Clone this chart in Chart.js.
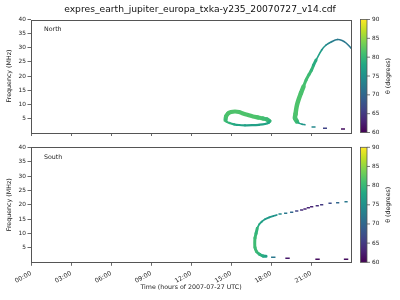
<!DOCTYPE html>
<html><head><meta charset="utf-8">
<script src="https://cdn.jsdelivr.net/npm/chart.js@4"></script>
<style>
html,body{margin:0;padding:0;background:#fff;}
#wrap{position:relative;width:400px;height:300px;overflow:hidden;}
canvas{position:absolute;left:0;}
</style></head><body>
<div id="wrap">
<canvas id="north" width="400" height="140" style="top:0;width:400px;height:140px"></canvas>
<canvas id="south" width="400" height="160" style="top:140px;width:400px;height:160px"></canvas>
</div>
<script>
// ---------------- data ----------------
const chartTitle = 'expres_earth_jupiter_europa_txka-y235_20070727_v14.cdf';
const panelLabels = ['North', 'South'];
const xTickHours = [0, 3, 6, 9, 12, 15, 18, 21];
const xTickLabels = ['00:00', '03:00', '06:00', '09:00', '12:00', '15:00', '18:00', '21:00'];
const yTicks = [5, 10, 15, 20, 25, 30, 35, 40];
const thetaTicks = [60, 65, 70, 75, 80, 85, 90];
const xTitle = 'Time (hours of 2007-07-27 UTC)';
const yTitle = 'Frequency (MHz)';
const cbTitle = 'θ (degrees)';

// North: loop (upper band)
const nLoopTopHour  = [14.59, 14.63, 14.78, 15.00, 15.30, 15.60, 15.90, 16.28, 16.65, 17.03, 17.40, 17.70, 17.89];
const nLoopTopFreq  = [4.42, 5.66, 6.73, 7.26, 7.43, 7.26, 6.73, 6.19, 5.66, 5.31, 4.96, 4.60, 4.07];
const nLoopTopTheta = [80.5, 81, 81.5, 81.5, 81.5, 81.5, 81.5, 81.5, 81.5, 81.5, 81, 80.5, 80];
// North: loop (lower band)
const nLoopBotHour  = [17.89, 17.85, 17.55, 17.10, 16.58, 16.05, 15.60, 15.23, 14.89, 14.66, 14.59];
const nLoopBotFreq  = [4.07, 3.54, 3.01, 2.73, 2.58, 2.55, 2.65, 2.90, 3.36, 3.89, 4.42];
const nLoopBotTheta = [79, 78, 77.5, 77, 77, 77, 77.5, 78, 79, 80, 80.5];
// North: arc, lower part
const nArcLowHour  = [19.95, 19.80, 19.84, 19.88, 19.95, 20.06, 20.25, 20.44];
const nArcLowFreq  = [3.89, 5.13, 6.55, 7.96, 9.73, 11.50, 13.98, 16.28];
const nArcLowTheta = [80, 81, 81.5, 81.5, 81.5, 81.5, 81.5, 81];
// North: arc, middle part
const nArcMidHour  = [20.44, 20.63, 20.85, 21.04, 21.20, 21.38];
const nArcMidFreq  = [16.28, 18.58, 20.53, 22.12, 23.90, 25.66];
const nArcMidTheta = [81, 81, 80.5, 80, 79, 78];
// North: arc, upper part
const nArcTopHour  = [21.38, 21.80, 22.13, 22.54, 22.99, 23.33, 23.63, 23.93, 24.05];
const nArcTopFreq  = [25.66, 29.20, 30.97, 32.14, 32.92, 32.57, 31.68, 30.27, 29.60];
const nArcTopTheta = [78, 76, 74.5, 73, 72, 72, 72, 72, 72];
// North: tail at the foot of the arc
const nTailHour  = [19.95, 20.10, 20.33, 20.55];
const nTailFreq  = [3.89, 3.29, 2.94, 2.73];
const nTailTheta = [80, 78, 76, 75];
// North: isolated dashes
const nDashHour  = [21.19, 22.05, 23.40];
const nDashFreq  = [1.95, 1.49, 1.24];
const nDashTheta = [74, 66, 61];

// South: main curve, lower part
const sLowHour  = [17.63, 17.40, 17.14, 16.91, 16.80, 16.78, 16.80, 16.88, 16.97];
const sLowFreq  = [2.09, 2.19, 2.78, 3.76, 5.15, 6.71, 8.45, 10.09, 11.83];
const sLowTheta = [76, 78, 79, 80, 80.5, 80.5, 80.5, 80, 79];
// South: main curve, upper part
const sUpHour  = [16.97, 17.12, 17.30, 17.55, 17.87, 18.17, 18.43];
const sUpFreq  = [11.83, 13.22, 14.12, 14.96, 15.65, 16.10, 16.45];
const sUpTheta = [79, 78, 77, 76.5, 76, 75.5, 75];
// South: upper dashes
const sDashUpHour  = [18.68, 19.10, 19.55, 19.93, 20.30, 20.55, 20.80, 21.05, 21.47, 21.80, 22.43, 23.00, 23.63];
const sDashUpFreq  = [16.80, 17.04, 17.39, 17.84, 18.19, 18.54, 18.99, 19.34, 19.69, 20.03, 20.52, 20.73, 21.08];
const sDashUpTheta = [74, 72, 70, 66, 64, 63, 63, 63, 64, 65, 67, 70, 72];
// South: lower dashes
const sDashLowHour  = [18.17, 19.24, 21.49, 23.63];
const sDashLowFreq  = [1.74, 1.39, 1.04, 1.04];
const sDashLowTheta = [72, 62, 61, 61];

// ---------------- style ----------------
const FAMILY = 'DejaVu Sans';
Chart.defaults.font.family = FAMILY;
Chart.defaults.color = '#222';
const VIRIDIS = ['#440154','#482475','#414487','#355f8d','#2a788e','#21918c','#22a884','#44bf70','#7ad151','#bddf26','#fde725'];
const THETA_MIN = 60, THETA_MAX = 90;
function hexRgb(h){return [parseInt(h.slice(1,3),16),parseInt(h.slice(3,5),16),parseInt(h.slice(5,7),16)];}
const VIR_RGB = VIRIDIS.map(hexRgb);
function viridis(theta){
  let t = (theta - THETA_MIN) / (THETA_MAX - THETA_MIN);
  t = Math.max(0, Math.min(1, t)) * (VIR_RGB.length - 1);
  const i = Math.min(VIR_RGB.length - 2, Math.floor(t)), u = t - i;
  const a = VIR_RGB[i], b = VIR_RGB[i+1];
  return 'rgb(' + a.map((v,k)=>Math.round(v + (b[k]-v)*u)).join(',') + ')';
}

function curveDataset(h, f, t, width){
  return {
    type: 'scatter', showLine: true, clip: 0,
    data: h.map((x,i)=>({x: x, y: f[i]})),
    pointRadius: 0, pointHoverRadius: 0,
    borderWidth: width, borderCapStyle: 'round', borderJoinStyle: 'round',
    tension: 0.35,
    borderColor: viridis(t[0]),
    segment: { borderColor: ctx => viridis((t[ctx.p0DataIndex] + t[ctx.p1DataIndex]) / 2) }
  };
}
function dashDataset(h, f, t, radius){
  return {
    type: 'scatter', showLine: false, clip: 0,
    data: h.map((x,i)=>({x: x, y: f[i]})),
    pointStyle: 'line', pointRadius: radius, pointHoverRadius: radius,
    pointBorderWidth: 1.6,
    pointBorderColor: t.map(viridis), pointBackgroundColor: t.map(viridis)
  };
}

const decorPlugin = {
  id: 'decor',
  afterDraw(chart, args, opts){
    const ctx = chart.ctx, a = chart.chartArea, cb = chart.scales.cb;
    ctx.save();
    // frame
    ctx.strokeStyle = '#555'; ctx.lineWidth = 1;
    ctx.strokeRect(Math.round(a.left)+0.5, Math.round(a.top)+0.5, Math.round(a.right-a.left), Math.round(a.bottom-a.top));
    // panel label
    ctx.fillStyle = '#222'; ctx.font = '6.3px "' + FAMILY + '"';
    ctx.textBaseline = 'middle'; ctx.textAlign = 'left';
    ctx.fillText(opts.label, a.left + 13, a.top + 10);
    // colorbar
    const x0 = a.right + 9.5, w = 6.5;
    const yT = cb.getPixelForValue(THETA_MAX), yB = cb.getPixelForValue(THETA_MIN);
    const g = ctx.createLinearGradient(0, yB, 0, yT);
    VIRIDIS.forEach((c,i)=>g.addColorStop(i/(VIRIDIS.length-1), c));
    ctx.fillStyle = g; ctx.fillRect(x0, yT, w, yB - yT);
    ctx.strokeStyle = '#555'; ctx.lineWidth = 0.8;
    ctx.strokeRect(x0, yT, w, yB - yT);
    ctx.beginPath();
    cb.ticks.forEach(tk => { const y = cb.getPixelForValue(tk.value); ctx.moveTo(x0 + w, y); ctx.lineTo(x0 + w + 3, y); });
    ctx.stroke();
    // colorbar title
    ctx.translate(a.right + 37.5, (yT + yB) / 2);
    ctx.rotate(-Math.PI/2);
    ctx.textAlign = 'center'; ctx.fillStyle = '#222';
    ctx.font = '6.3px "' + FAMILY + '"';
    ctx.fillText(cbTitle, 0, 0);
    ctx.restore();
  }
};

function makePanel(id, label, datasets, bottom){
  const tickFont = {size: 5.8, family: FAMILY};
  return new Chart(document.getElementById(id), {
    type: 'scatter',
    data: { datasets: datasets },
    options: {
      responsive: false, animation: false, devicePixelRatio: 1,
      events: [],
      layout: { padding: { top: bottom ? 7.3 : 0, left: 0, right: 0, bottom: 0 } },
      plugins: {
        legend: { display: false }, tooltip: { enabled: false },
        title: bottom ? { display: false } : {
          display: true, text: chartTitle, color: '#111',
          font: { size: 9.2, family: FAMILY, weight: 'normal' },
          padding: { top: 4.5, bottom: 3.96 }
        },
        decor: { label: label }
      },
      scales: {
        x: {
          type: 'linear', min: 0, max: 24,
          afterBuildTicks: s => { s.ticks = xTickHours.map(v => ({ value: v })); },
          ticks: {
            display: bottom, autoSkip: false, minRotation: 30, maxRotation: 30,
            font: {size: 6.2, family: FAMILY}, color: '#222', padding: 3.8,
            callback: (v, i) => xTickLabels[i]
          },
          grid: { drawOnChartArea: false, drawTicks: true, tickLength: 3.5, color: '#444', lineWidth: 0.8 },
          border: { display: false },
          title: bottom ? {
            display: true, text: xTitle, color: '#222',
            font: { size: 6.3, family: FAMILY }, padding: { top: 0, bottom: 9 }
          } : { display: false },
          afterFit: s => { s.height = bottom ? 37.7 : 7.5; }
        },
        y: {
          type: 'linear', min: 0, max: 40, position: 'left',
          afterBuildTicks: s => { s.ticks = yTicks.map(v => ({ value: v })); },
          ticks: { font: tickFont, color: '#222', padding: 1.5 },
          grid: { drawOnChartArea: false, drawTicks: true, tickLength: 3.5, color: '#444', lineWidth: 0.8 },
          border: { display: false },
          title: { display: true, text: yTitle, color: '#222', font: { size: 6.3, family: FAMILY }, padding: { top: 6, bottom: 0 } },
          afterFit: s => { s.width = 31; }
        },
        cb: {
          type: 'linear', min: THETA_MIN, max: THETA_MAX, position: 'right',
          afterBuildTicks: s => { s.ticks = thetaTicks.map(v => ({ value: v })); },
          ticks: { font: tickFont, color: '#222', padding: 0 },
          grid: { display: true, drawOnChartArea: false, drawTicks: true, tickLength: 21, tickColor: 'rgba(0,0,0,0)', color: 'rgba(0,0,0,0)' },
          border: { display: false },
          afterFit: s => { s.width = 49; }
        }
      }
    },
    plugins: [decorPlugin]
  });
}

makePanel('north', panelLabels[0], [
  curveDataset(nLoopBotHour, nLoopBotFreq, nLoopBotTheta, 2.2),
  curveDataset(nLoopTopHour, nLoopTopFreq, nLoopTopTheta, 4.2),
  curveDataset(nTailHour, nTailFreq, nTailTheta, 1.5),
  curveDataset(nArcLowHour, nArcLowFreq, nArcLowTheta, 4.5),
  curveDataset(nArcMidHour, nArcMidFreq, nArcMidTheta, 3),
  curveDataset(nArcTopHour, nArcTopFreq, nArcTopTheta, 1.6),
  dashDataset(nDashHour, nDashFreq, nDashTheta, 2)
], false);

makePanel('south', panelLabels[1], [
  curveDataset(sLowHour, sLowFreq, sLowTheta, 3),
  curveDataset(sUpHour, sUpFreq, sUpTheta, 1.8),
  dashDataset(sDashUpHour, sDashUpFreq, sDashUpTheta, 1.6),
  dashDataset(sDashLowHour, sDashLowFreq, sDashLowTheta, 2.2)
], true);
</script>
</body></html>
